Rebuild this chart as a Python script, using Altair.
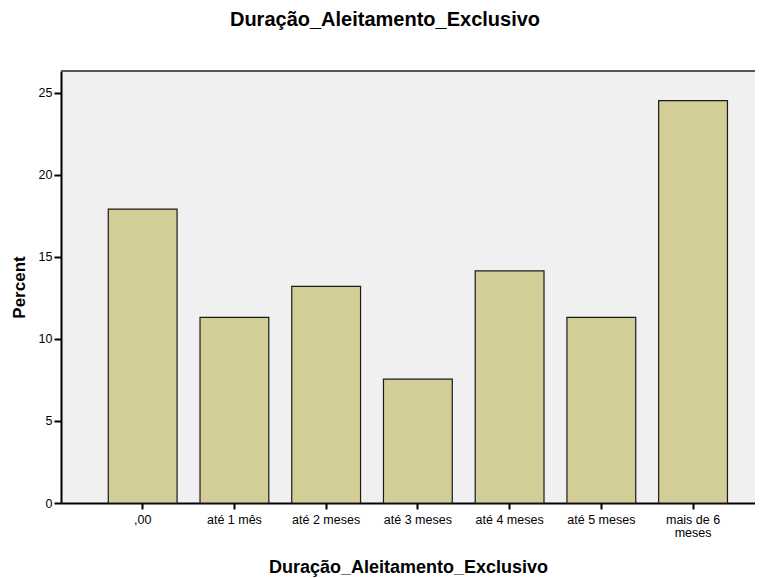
import altair as alt
import pandas as pd

categories = [",00", "até 1 mês", "até 2 meses", "até 3 meses", "até 4 meses", "até 5 meses", "mais de 6 meses"]
percents = [17.92, 11.32, 13.21, 7.55, 14.15, 11.32, 24.53]
y_ticks = [0, 5, 10, 15, 20, 25]

df = pd.DataFrame({"cat": categories, "pct": percents})

FONT = "Liberation Sans"
W, H = 694, 432

bars = alt.Chart(df).mark_bar(
    fill="#D3CE97", stroke="#1a1a1a", strokeWidth=1.2
).encode(
    x=alt.X(
        "cat:N",
        sort=categories,
        scale=alt.Scale(paddingInner=0.25, paddingOuter=0.4078, align=0.632),
        axis=alt.Axis(
            title="Duração_Aleitamento_Exclusivo",
            labelAngle=0,
            labelFont=FONT, labelFontSize=12.5, labelColor="#000",
            labelExpr="datum.label == 'mais de 6 meses' ? ['mais de 6', 'meses'] : datum.label",
            labelPadding=4, labelLineHeight=13,
            tickSize=6, tickWidth=2, tickColor="#000",
            domainColor="#000", domainWidth=2,
            titleFont=FONT, titleFontSize=18, titleFontWeight="bold", titleColor="#000",
            titlePadding=20,
        ),
    ),
    y=alt.Y(
        "pct:Q",
        scale=alt.Scale(domain=[0, 26.34], nice=False),
        axis=alt.Axis(
            title="Percent",
            values=y_ticks, grid=False,
            labelFont=FONT, labelFontSize=12.5, labelColor="#000", labelPadding=2,
            tickSize=7, tickWidth=2, tickColor="#000",
            domainColor="#000", domainWidth=2,
            titleFont=FONT, titleFontSize=17, titleFontWeight="bold", titleColor="#000",
            titlePadding=10,
        ),
    ),
)

top_border = alt.Chart(pd.DataFrame({"a": [0]})).mark_rule(
    color="#555", strokeWidth=2
).encode(x=alt.value(0), x2=alt.value(W), y=alt.value(0))

chart = alt.layer(bars, top_border).properties(
    width=W,
    height=H,
    autosize=alt.AutoSizeParams(type="none"),
    padding={"left": 53, "top": 63, "right": 0, "bottom": 75},
    view=alt.ViewBackground(fill="#F0F0F0", stroke="transparent"),
    title=alt.TitleParams(
        "Duração_Aleitamento_Exclusivo",
        font=FONT, fontSize=20, fontWeight="bold", color="#000",
        anchor="middle", dx=-23, offset=40,
    ),
).configure_view(
    fill="#F0F0F0", stroke="transparent"
).configure(background="white")

chart.save("out.html", embed_options={"renderer": "svg", "actions": False})
